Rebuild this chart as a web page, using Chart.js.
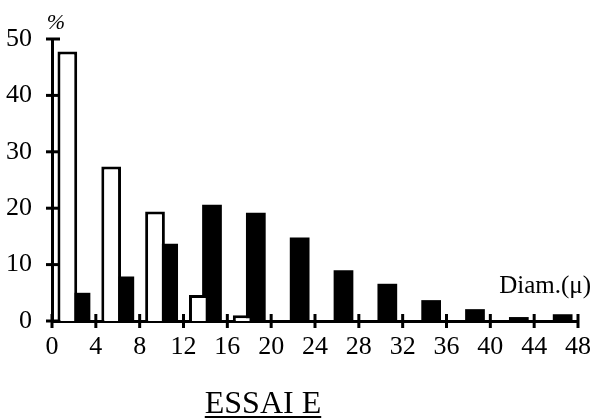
<!DOCTYPE html>
<html>
<head>
<meta charset="utf-8">
<script src="https://cdn.jsdelivr.net/npm/chart.js@4"></script>
<style>
  html, body { margin: 0; padding: 0; background: #fff; }
  #wrap { width: 605px; height: 419px; position: relative; }
</style>
</head>
<body>
<div id="wrap"><canvas id="chart" width="605" height="419"></canvas></div>
<script>
// classes de diametre (4 en 4)
const bins = ["0-4", "4-8", "8-12", "12-16", "16-20", "20-24", "24-28", "28-32", "32-36", "36-40", "40-44", "44-48"];
const whiteValues = [47.8, 27.4, 19.4, 4.6, 1.0, 0, 0, 0, 0, 0, 0, 0];
const blackValues = [5.0, 7.9, 13.7, 20.6, 19.2, 14.8, 9.0, 6.6, 3.7, 2.1, 0.7, 1.2];
const yTicks = [0, 10, 20, 30, 40, 50];
const xTicks = [0, 4, 8, 12, 16, 20, 24, 28, 32, 36, 40, 44, 48];

const serif = "'Liberation Serif', 'DejaVu Serif', serif";

// petits traits qui traversent les axes + textes
const extras = {
    id: "extras",
    afterDraw(chart) {
        const ctx = chart.ctx;
        const area = chart.chartArea;
        const xs = chart.scales.x2;
        const ys = chart.scales.y;
        ctx.save();
        ctx.strokeStyle = "#000";
        ctx.lineWidth = 3;
        xTicks.forEach(v => {
            const px = xs.getPixelForValue(v);
            ctx.beginPath();
            ctx.moveTo(px, area.bottom - 7);
            ctx.lineTo(px, area.bottom + 7);
            ctx.stroke();
        });
        yTicks.forEach(v => {
            const py = ys.getPixelForValue(v);
            ctx.beginPath();
            ctx.moveTo(area.left - 6, py);
            ctx.lineTo(area.left + (v === 50 ? 8 : 6), py);
            ctx.stroke();
        });

        ctx.fillStyle = "#000";
        ctx.font = "italic 22px " + serif;
        ctx.textAlign = "center";
        ctx.textBaseline = "alphabetic";
        ctx.fillText("%", area.left + 4, 29);

        ctx.font = "25px " + serif;
        ctx.textAlign = "right";
        ctx.fillText("Diam.(\u03bc)", 591, 293);

        ctx.font = "32px " + serif;
        ctx.textAlign = "center";
        ctx.fillText("ESSAI E", 263, 413);
        const w = ctx.measureText("ESSAI E").width;
        ctx.lineWidth = 2;
        ctx.beginPath();
        ctx.moveTo(263 - w / 2, 417);
        ctx.lineTo(263 + w / 2, 417);
        ctx.stroke();
        ctx.restore();
    }
};

new Chart(document.getElementById("chart").getContext("2d"), {
    type: "bar",
    data: {
        labels: bins,
        datasets: [
            {
                data: whiteValues,
                backgroundColor: "#fff",
                borderColor: "#000",
                borderWidth: 3,
                categoryPercentage: 0.6,
                barPercentage: 1.5
            },
            {
                data: blackValues,
                backgroundColor: "#000",
                borderColor: "#000",
                borderWidth: 0,
                categoryPercentage: 0.6,
                barPercentage: 1.5
            }
        ]
    },
    options: {
        responsive: false,
        animation: false,
        layout: { padding: { top: 39, right: 27, left: 0, bottom: 0 } },
        plugins: {
            legend: { display: false },
            tooltip: { enabled: false },
            title: { display: false }
        },
        scales: {
            x: {
                type: "category",
                display: false
            },
            x2: {
                type: "linear",
                position: "bottom",
                offset: false,
                min: 0,
                max: 48,
                afterBuildTicks: s => { s.ticks = xTicks.map(v => ({ value: v })); },
                afterFit: s => { s.height = 98; },
                grid: { display: false, offset: false },
                border: { display: true, color: "#000", width: 3 },
                ticks: {
                    color: "#000",
                    padding: 3,
                    maxRotation: 0,
                    autoSkip: false,
                    font: { family: serif, size: 26 }
                }
            },
            y: {
                min: 0,
                max: 50,
                afterBuildTicks: s => { s.ticks = yTicks.map(v => ({ value: v })); },
                afterFit: s => { s.width = 52; },
                grid: { display: false },
                border: { display: true, color: "#000", width: 3 },
                ticks: {
                    color: "#000",
                    padding: 12,
                    font: { family: serif, size: 26 }
                }
            }
        }
    },
    plugins: [extras]
});
</script>
</body>
</html>
